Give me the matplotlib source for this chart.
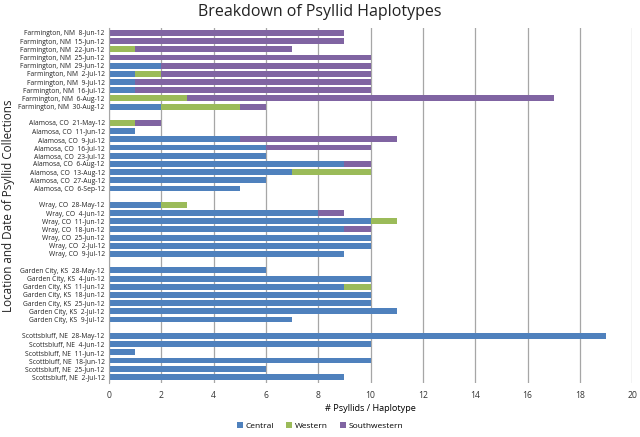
import numpy as np
import matplotlib
matplotlib.use("Agg")
import matplotlib.pyplot as plt

plt.rcParams['font.family'] = ['Open Sans', 'DejaVu Sans']

# collection labels, one list per site (top to bottom)
farmington = ["Farmington, NM  8-Jun-12", "Farmington, NM  15-Jun-12", "Farmington, NM  22-Jun-12",
              "Farmington, NM  25-Jun-12", "Farmington, NM  29-Jun-12", "Farmington, NM  2-Jul-12",
              "Farmington, NM  9-Jul-12", "Farmington, NM  16-Jul-12", "Farmington, NM  6-Aug-12",
              "Farmington, NM  30-Aug-12"]
alamosa = ["Alamosa, CO  21-May-12", "Alamosa, CO  11-Jun-12", "Alamosa, CO  9-Jul-12",
           "Alamosa, CO  16-Jul-12", "Alamosa, CO  23-Jul-12", "Alamosa, CO  6-Aug-12",
           "Alamosa, CO  13-Aug-12", "Alamosa, CO  27-Aug-12", "Alamosa, CO  6-Sep-12"]
wray = ["Wray, CO  28-May-12", "Wray, CO  4-Jun-12", "Wray, CO  11-Jun-12", "Wray, CO  18-Jun-12",
        "Wray, CO  25-Jun-12", "Wray, CO  2-Jul-12", "Wray, CO  9-Jul-12"]
garden = ["Garden City, KS  28-May-12", "Garden City, KS  4-Jun-12", "Garden City, KS  11-Jun-12",
          "Garden City, KS  18-Jun-12", "Garden City, KS  25-Jun-12", "Garden City, KS  2-Jul-12",
          "Garden City, KS  9-Jul-12"]
scotts = ["Scottsbluff, NE  28-May-12", "Scottsbluff, NE  4-Jun-12", "Scottsbluff, NE  11-Jun-12",
          "Scottbluff, NE  18-Jun-12", "Scottsbluff, NE  25-Jun-12", "Scottsbluff, NE  2-Jul-12"]

# counts per haplotype, same order as the labels
central = [0, 0, 0, 0, 2, 1, 1, 1, 0, 2,
           0, 1, 5, 6, 6, 9, 7, 6, 5,
           2, 8, 10, 9, 10, 10, 9,
           6, 10, 9, 10, 10, 11, 7,
           19, 10, 1, 10, 6, 9]
western = [0, 0, 1, 0, 0, 1, 0, 0, 3, 3,
           1, 0, 0, 0, 0, 0, 3, 0, 0,
           1, 0, 1, 0, 0, 0, 0,
           0, 0, 1, 0, 0, 0, 0,
           0, 0, 0, 0, 0, 0]
southwestern = [9, 9, 6, 10, 8, 8, 9, 9, 14, 1,
                1, 0, 6, 4, 0, 1, 0, 0, 0,
                0, 1, 0, 1, 0, 0, 0,
                0, 0, 0, 0, 0, 0, 0,
                0, 0, 0, 0, 0, 0]

groups = [farmington, alamosa, wray, garden, scotts]

labels = []
ypos = []
row = 0
for g in groups:
    for lab in g:
        labels.append(lab)
        ypos.append(-row)
        row += 1
    row += 1  # blank row between sites
ypos = np.array(ypos)
central = np.array(central)
western = np.array(western)
southwestern = np.array(southwestern)

fig = plt.figure(figsize=(6.4, 4.37), dpi=100)
ax = fig.add_axes([0.170, 0.124, 0.818, 0.812])

h = 0.72
ax.barh(ypos, central, height=h, color='#4F81BD', label='Central')
ax.barh(ypos, western, left=central, height=h, color='#9BBB59', label='Western')
ax.barh(ypos, southwestern, left=central + western, height=h, color='#8064A2', label='Southwestern')

ax.set_xlim(0, 20)
ax.set_ylim(ypos.min() - 0.73, 0.6)
ax.set_xticks(np.arange(0, 21, 2))
ax.set_yticks(ypos)
ax.set_yticklabels(labels, fontsize=4.9, color='#222222')
ax.tick_params(axis='x', labelsize=6.2, length=0, pad=6, colors='#333333')
ax.tick_params(axis='y', length=0, pad=3)
ax.xaxis.grid(True, color='#a6a6a6', linewidth=0.9)
ax.set_axisbelow(True)
for s in ['top', 'right', 'bottom']:
    ax.spines[s].set_visible(False)
ax.spines['left'].set_color('#a6a6a6')

ax.set_xlabel('# Psyllids / Haplotype', fontsize=6.6, labelpad=3)
fig.text(0.014, 0.53, 'Location and Date of Psyllid Collections', fontsize=8.4,
         rotation=90, ha='center', va='center', color='#222222')
fig.suptitle('Breakdown of Psyllid Haplotypes', fontsize=11.5, y=0.99, color='#222222')

fig.legend(loc='lower center', bbox_to_anchor=(0.5, 0.0), ncol=3, frameon=False,
           fontsize=6, handlelength=0.7, handleheight=0.7, handletextpad=0.3, columnspacing=1.5)

fig.savefig('out.png', dpi=100)
